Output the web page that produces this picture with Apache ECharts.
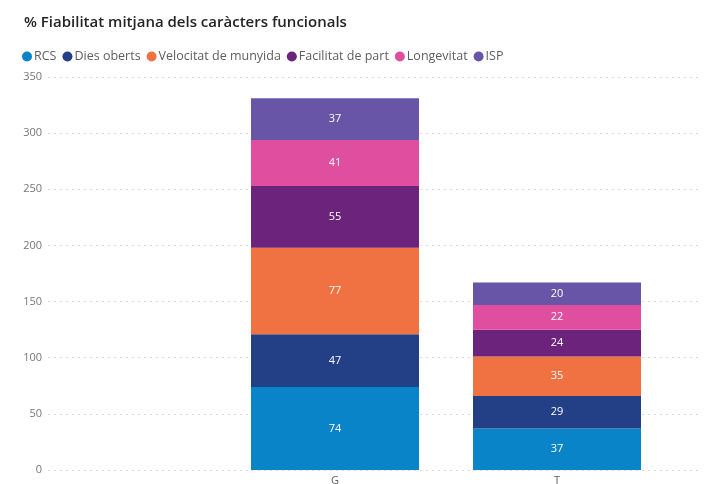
<!DOCTYPE html>
<html><head><meta charset="utf-8">
<script src="https://cdn.jsdelivr.net/npm/echarts@6/dist/echarts.min.js"></script>
<style>html,body{margin:0;padding:0;background:#fff}#c{width:721px;height:484px}</style>
</head><body><div id="c"></div>
<script>
const categories = ['G', 'T'];
const seriesNames = ['RCS', 'Dies oberts', 'Velocitat de munyida', 'Facilitat de part', 'Longevitat', 'ISP'];
const RCS = [74, 37];
const diesOberts = [47, 29];
const velocitat = [77, 35];
const facilitat = [55, 24];
const longevitat = [41, 22];
const isp = [37, 20];
const colors = ['#0a84c8', '#233f86', '#f07142', '#6b237c', '#e04f9f', '#6955a8'];
const yTicks = { min: 0, max: 350, interval: 50 };

const values = [RCS, diesOberts, velocitat, facilitat, longevitat, isp];
const font = '"Open Sans", "Noto Sans", sans-serif';
const chart = echarts.init(document.getElementById('c'));
chart.setOption({
  animation: false,
  textStyle: { fontFamily: font },
  title: { text: '% Fiabilitat mitjana dels caràcters funcionals', left: 19, top: 10,
    textStyle: { fontSize: 15, fontWeight: 600, color: '#252423', fontFamily: font } },
  legend: { left: 17, top: 45, icon: 'circle', itemWidth: 10, itemHeight: 10, itemGap: 6,
    textStyle: { fontSize: 12.5, color: '#605e5c', padding: [0, 0, 0, -3] }, data: seriesNames },
  grid: [
    { left: 48, right: 21, top: 77, bottom: 14, outerBoundsMode: 'none', containLabel: false },
    { left: 224, right: 53, top: 77, bottom: 14, outerBoundsMode: 'none', containLabel: false }
  ],
  xAxis: [
    { gridIndex: 0, type: 'value', show: false, splitLine: { show: false } },
    { gridIndex: 1, type: 'category', data: categories, axisLine: { show: false }, axisTick: { show: false },
      axisLabel: { color: '#605e5c', fontSize: 11, margin: 5 } }
  ],
  yAxis: [
    { gridIndex: 0, type: 'value', min: yTicks.min, max: yTicks.max, interval: yTicks.interval,
      axisLine: { show: false }, axisTick: { show: false },
      axisLabel: { color: '#777', fontSize: 11, margin: 6 },
      splitLine: { lineStyle: { color: '#d9d9d9', type: [2, 4], width: 1 } } },
    { gridIndex: 1, type: 'value', min: yTicks.min, max: yTicks.max, interval: yTicks.interval, show: false,
      splitLine: { show: false } }
  ],
  series: seriesNames.map((n, i) => ({
    name: n, type: 'bar', stack: 'tot', xAxisIndex: 1, yAxisIndex: 1,
    barWidth: 168, data: values[i],
    itemStyle: { color: colors[i] },
    label: { show: true, position: 'inside', color: '#fff', fontSize: 11 }
  })),
  color: colors
});
</script></body></html>
